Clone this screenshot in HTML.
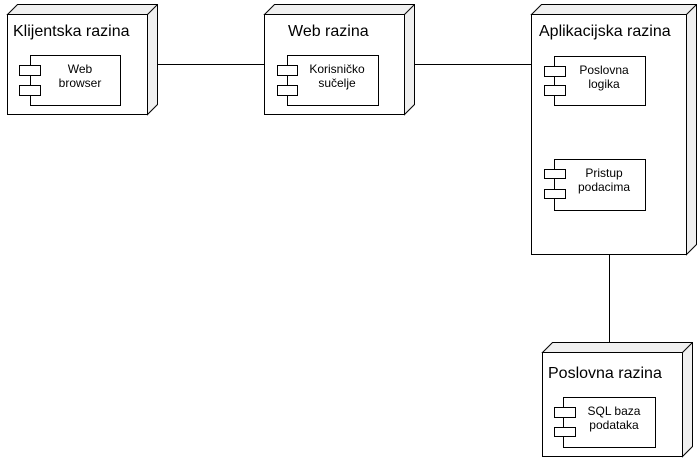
<!DOCTYPE html>
<html><head><meta charset="utf-8"><style>
html,body{margin:0;padding:0;background:#fff;}
svg{display:block;}
text{font-family:"Liberation Sans",sans-serif;fill:#000;}
</style></head><body>
<svg width="697" height="460" viewBox="0 0 697 460" xmlns="http://www.w3.org/2000/svg">
<g stroke="#000" stroke-width="1" fill="none">
<line x1="147" y1="64.5" x2="264" y2="64.5"/>
<line x1="405" y1="64.5" x2="531" y2="64.5"/>
<line x1="609.5" y1="254" x2="609.5" y2="343"/>
</g>
<!-- node helper: front box (x,y,w,h), depth 10 -->
<g stroke="#000" stroke-width="1">
<!-- Klijentska -->
<polygon points="7.5,14.5 17.5,4.5 157.5,4.5 157.5,104.5 147.5,114.5 147.5,14.5" fill="#f0f0f0"/>
<line x1="147.5" y1="14.5" x2="157.5" y2="4.5"/>
<rect x="7.5" y="14.5" width="140" height="100" fill="#fff"/>
<!-- Web -->
<polygon points="264.5,14.5 274.5,4.5 414.5,4.5 414.5,104.5 404.5,114.5 404.5,14.5" fill="#f0f0f0"/>
<line x1="404.5" y1="14.5" x2="414.5" y2="4.5"/>
<rect x="264.5" y="14.5" width="140" height="100" fill="#fff"/>
<!-- Aplikacijska -->
<polygon points="531.5,14.5 541.5,4.5 696.5,4.5 696.5,244.5 686.5,254.5 686.5,14.5" fill="#f0f0f0"/>
<line x1="686.5" y1="14.5" x2="696.5" y2="4.5"/>
<rect x="531.5" y="14.5" width="155" height="240" fill="#fff"/>
<!-- Poslovna razina -->
<polygon points="542.5,352.5 552.5,342.5 692.5,342.5 692.5,446.5 682.5,456.5 682.5,352.5" fill="#f0f0f0"/>
<line x1="682.5" y1="352.5" x2="692.5" y2="342.5"/>
<rect x="542.5" y="352.5" width="140" height="104" fill="#fff"/>
</g>
<g stroke="#000" stroke-width="1" fill="#fff">
<rect x="30.5" y="55.5" width="90" height="50"/>
<rect x="19.5" y="65.5" width="21" height="10"/>
<rect x="19.5" y="85.5" width="21" height="10"/>
<rect x="287.5" y="55.5" width="91" height="50"/>
<rect x="277.5" y="65.5" width="20" height="10"/>
<rect x="277.5" y="85.5" width="20" height="10"/>
<rect x="554.5" y="56.5" width="91" height="49"/>
<rect x="544.5" y="66.5" width="21" height="10"/>
<rect x="544.5" y="85.5" width="21" height="10"/>
<rect x="554.5" y="159.5" width="91" height="51"/>
<rect x="544.5" y="169.5" width="21" height="9"/>
<rect x="544.5" y="189.5" width="21" height="9"/>
<rect x="563.5" y="397.5" width="92" height="50"/>
<rect x="554.5" y="407.5" width="21" height="10"/>
<rect x="554.5" y="427.5" width="21" height="9"/>
</g>
<g font-size="16">
<text x="13" y="36">Klijentska razina</text>
<text x="288" y="36">Web razina</text>
<text x="539" y="36">Aplikacijska razina</text>
<text x="548" y="378">Poslovna razina</text>
</g>
<g font-size="12" text-anchor="middle">
<text x="80" y="73">Web</text><text x="80" y="87">browser</text>
<text x="337" y="73">Korisničko</text><text x="337" y="87">sučelje</text>
<text x="604" y="74">Poslovna</text><text x="604" y="88">logika</text>
<text x="604" y="177">Pristup</text><text x="604" y="191">podacima</text>
<text x="614" y="415">SQL baza</text><text x="614" y="429">podataka</text>
</g>
</svg>
</body></html>
